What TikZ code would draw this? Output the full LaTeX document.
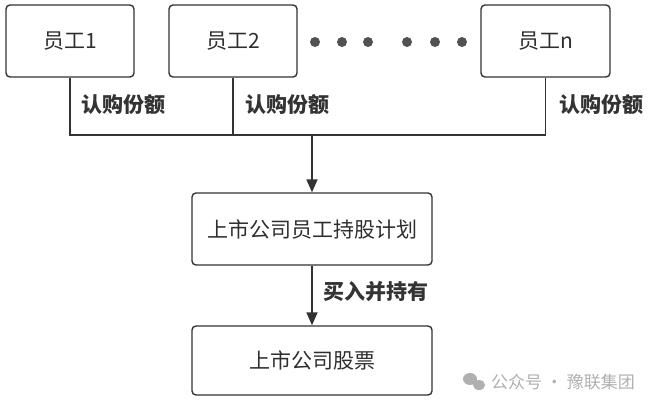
\documentclass[tikz,border=0pt]{standalone}
\usepackage{fontspec}
\setmainfont{Noto Sans CJK SC}
\usetikzlibrary{arrows.meta}
\definecolor{ln}{HTML}{333333}
\definecolor{wm}{HTML}{B0B0B0}
\tikzset{
  box/.style={draw=ln, line width=1.4pt, rounded corners=4pt, inner sep=0pt, font=\fontsize{21}{23}\selectfont, text=ln!90!black},
  conn/.style={draw=ln, line width=1.8pt},
  lbl/.style={font=\fontsize{21}{23}\selectfont\bfseries, text=ln, inner sep=0pt},
  dot/.style={fill=ln!85!white, draw=none, circle, minimum size=10pt, inner sep=0pt},
  arr/.style={conn, -{Triangle[length=13pt,width=11pt]}}
}
\begin{document}
\begin{tikzpicture}[x=1pt,y=-1pt]
\useasboundingbox (0,0) rectangle (663,406);
\node[box, minimum width=128pt, minimum height=72pt] (b1) at (70,41) {员工1};
\node[box, minimum width=128pt, minimum height=72pt] (b2) at (233,41) {员工2};
\node[box, minimum width=129pt, minimum height=72pt] (bn) at (545.5,41) {员工n};
\foreach \i/\x in {1/315,2/342,3/368,4/407,5/435,6/462}
  \node[dot] (d\i) at (\x,42) {};
\node[box, minimum width=240pt, minimum height=72pt] (plan) at (312,229) {上市公司员工持股计划};
\node[box, minimum width=240pt, minimum height=69pt] (stock) at (312,360.5) {上市公司股票};
\coordinate (j) at (312,135);
\draw[conn] (b1.south) |- (bn.south |- j) -- (bn.south);
\draw[conn] (b2.south) -- (b2.south |- j);
\draw[arr] (j) -- (plan.north);
\draw[arr] (plan.south) -- (stock.north);
\node[lbl] (l1) at (123,105) {认购份额};
\node[lbl] (l2) at (287,105) {认购份额};
\node[lbl] (l3) at (601,105) {认购份额};
\node[lbl] (l4) at (376,292) {买入并持有};
\fill[wm] (470,379) ellipse (7pt and 6pt);
\fill[wm] (479,385) ellipse (6pt and 5pt);
\node[text=wm, font=\fontsize{17}{19}\selectfont, inner sep=0pt, anchor=west] (wmt) at (491,382) {公众号 · 豫联集团};
\end{tikzpicture}
\end{document}
